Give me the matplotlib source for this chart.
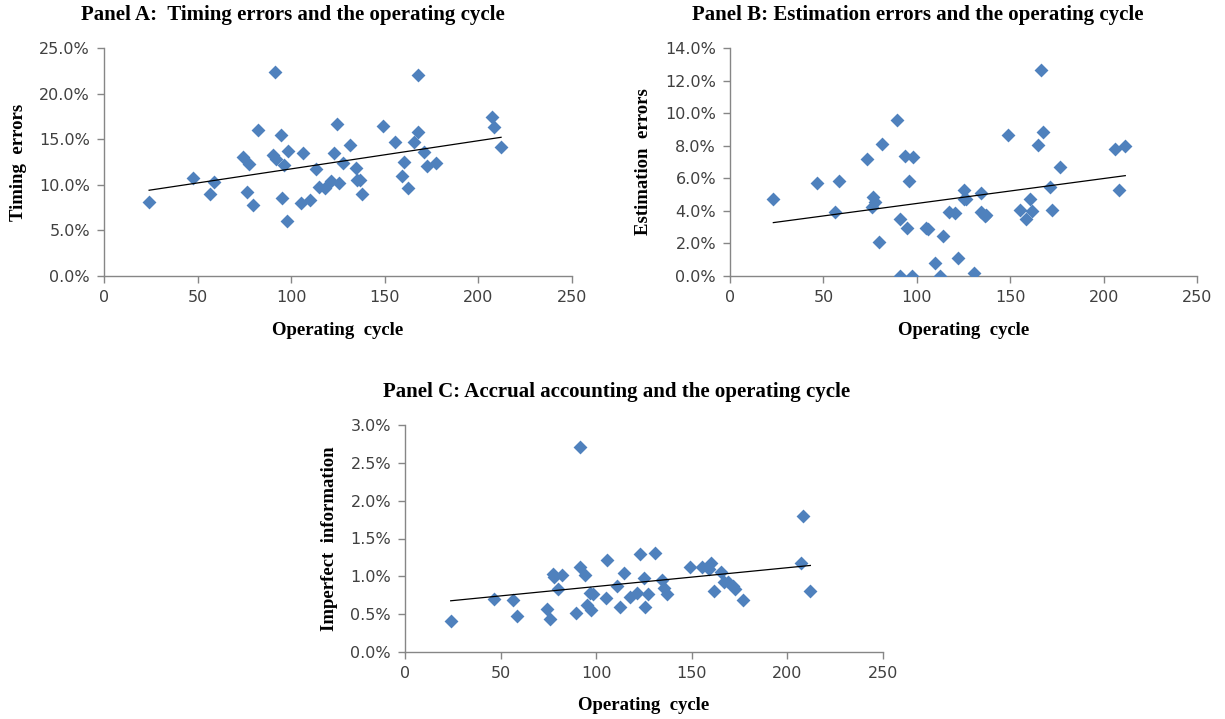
import numpy as np
import matplotlib
matplotlib.use("Agg")
import matplotlib.pyplot as plt
from matplotlib.ticker import PercentFormatter, MultipleLocator

# Panel A: operating cycle vs timing errors (%)
cycle_a = [24.1, 47.8, 56.7, 58.8, 74.1, 76.3, 77.7, 79.5, 82.1, 90.2, 91.4, 91.8,
           94.4, 95.0, 96.4, 97.6, 98.5, 105.3, 106.2, 110.1, 113.3, 114.6, 118.1,
           121.3, 123.1, 124.7, 125.4, 127.6, 131.2, 134.7, 135.1, 136.5, 137.7,
           149.0, 155.2, 159.1, 160.0, 162.2, 165.4, 167.5, 168.0, 171.2, 172.8,
           177.3, 207.2, 208.5, 212.1]
timing = [8.1, 10.8, 9.0, 10.3, 13.1, 9.2, 12.3, 7.8, 16.0, 13.3, 22.4, 12.8,
          15.5, 8.5, 12.2, 6.0, 13.7, 8.0, 13.5, 8.3, 11.7, 9.8, 9.6,
          10.4, 13.5, 16.7, 10.2, 12.4, 14.4, 11.8, 10.5, 10.5, 9.0,
          16.4, 14.7, 11.0, 12.5, 9.7, 14.7, 22.0, 15.8, 13.6, 12.1,
          12.4, 17.4, 16.3, 14.1]

# Panel B: operating cycle vs estimation errors (%)
cycle_b = [23.2, 46.4, 56.3, 58.4, 73.2, 75.9, 76.8, 77.7, 79.5, 81.3, 89.6, 91.1,
           91.1, 93.8, 94.6, 95.9, 97.3, 97.9, 105.0, 105.9, 109.8, 112.5, 113.9,
           117.5, 120.7, 122.1, 125.0, 125.0, 126.4, 130.7, 134.3, 134.3, 136.3,
           137.1, 148.8, 155.0, 158.6, 160.4, 161.6, 164.8, 166.6, 167.5, 171.1,
           172.5, 176.8, 206.3, 208.0, 211.6]
estimation = [4.71, 5.74, 3.91, 5.82, 7.17, 4.26, 4.88, 4.57, 2.07, 8.09, 9.55, 3.52,
              0.0, 7.34, 2.97, 5.82, 0.0, 7.30, 2.97, 2.91, 0.78, 0.0, 2.48,
              3.91, 3.85, 1.13, 5.29, 4.73, 4.71, 0.2, 5.08, 3.91, 3.71,
              3.75, 8.63, 4.06, 3.50, 4.71, 4.0, 8.05, 12.62, 8.85, 5.49,
              4.06, 6.72, 7.81, 5.27, 7.99]

# Panel C: operating cycle vs imperfect information (%)
cycle_c = [23.9, 46.6, 56.7, 58.8, 74.1, 75.9, 77.3, 78.0, 79.9, 82.2, 89.3, 91.6,
           91.6, 93.9, 95.1, 96.5, 97.4, 98.2, 105.2, 105.9, 110.8, 112.5, 114.8,
           117.8, 121.2, 123.0, 125.1, 125.6, 127.0, 130.8, 134.3, 135.2, 137.0,
           149.2, 155.3, 158.8, 160.2, 161.4, 165.4, 166.6, 168.7, 171.5, 172.7,
           176.6, 207.3, 208.0, 212.0]
imperfect = [0.41, 0.70, 0.69, 0.48, 0.57, 0.44, 1.03, 0.99, 0.83, 1.02, 0.51, 1.12,
             2.71, 1.02, 0.62, 0.78, 0.56, 0.77, 0.72, 1.21, 0.87, 0.59, 1.05,
             0.73, 0.78, 1.29, 0.98, 0.60, 0.76, 1.31, 0.95, 0.84, 0.76,
             1.12, 1.12, 1.10, 1.17, 0.81, 1.06, 0.93, 0.92, 0.87, 0.83,
             0.69, 1.17, 1.80, 0.81]

W, H = 1225, 719
fig = plt.figure(figsize=(W / 100, H / 100), dpi=100)
fig.patch.set_facecolor("white")

serif = ["Liberation Serif", "DejaVu Serif"]
blue = "#4F81BD"
spine_col = "#868686"


def panel(box, x, y, ymax, ystep, ylabel, title, title_xy, ylab_x, xlab_y):
    l, t, r, b = box
    ax = fig.add_axes([l / W, 1 - b / H, (r - l) / W, (b - t) / H])
    ax.scatter(x, y, marker="D", s=50, color=blue, linewidths=0, zorder=3)
    # linear trend line, like Excel's
    k, c = np.polyfit(x, y, 1)
    xs = np.array([min(x), max(x)])
    ax.plot(xs, k * xs + c, color="black", lw=0.9, zorder=4)
    ax.set_xlim(0, 250)
    ax.set_ylim(0, ymax)
    ax.xaxis.set_major_locator(MultipleLocator(50))
    ax.yaxis.set_major_locator(MultipleLocator(ystep))
    ax.yaxis.set_major_formatter(PercentFormatter(decimals=1))
    for s in ["top", "right"]:
        ax.spines[s].set_visible(False)
    for s in ["left", "bottom"]:
        ax.spines[s].set_color(spine_col)
        ax.spines[s].set_linewidth(1.0)
    ax.tick_params(direction="out", length=5, width=1, color=spine_col,
                   labelsize=11.5, labelcolor="#404040", pad=5)
    for lab in ax.get_xticklabels() + ax.get_yticklabels():
        lab.set_family("DejaVu Sans")
    fig.text(title_xy[0] / W, 1 - title_xy[1] / H, title, ha="center", va="center",
             family=serif, fontweight="bold", fontsize=15)
    fig.text(ylab_x / W, 1 - (t + b) / 2 / H, ylabel, ha="center", va="center",
             rotation=90, family=serif, fontweight="bold", fontsize=13.5)
    fig.text((l + r) / 2 / W, 1 - xlab_y / H, "Operating  cycle", ha="center",
             va="center", family=serif, fontweight="bold", fontsize=13.5)
    return ax


panel((104, 48, 572, 276), cycle_a, timing, 25, 5, "Timing  errors",
      "Panel A:  Timing errors and the operating cycle", (293, 15), 19, 331)
panel((730, 48, 1197, 276), cycle_b, estimation, 14, 2, "Estimation  errors",
      "Panel B: Estimation errors and the operating cycle", (918, 15), 643, 331)
panel((405, 425, 883, 652), cycle_c, imperfect, 3, 0.5, "Imperfect  information",
      "Panel C: Accrual accounting and the operating cycle", (617, 392), 330, 706)

fig.savefig("out.png", dpi=100, facecolor="white")
